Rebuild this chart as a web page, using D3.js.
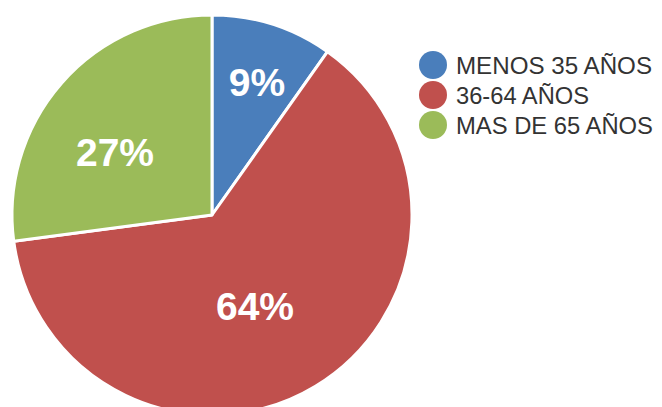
<!DOCTYPE html>
<html>
<head>
<meta charset="utf-8">
<script src="https://cdn.jsdelivr.net/npm/d3@7"></script>
<style>
  html, body { margin: 0; padding: 0; background: #ffffff; }
  svg { display: block; }
</style>
</head>
<body>
<svg id="chart" width="662" height="407"></svg>
<script>
const categories = ["MENOS 35 AÑOS", "36-64 AÑOS", "MAS DE 65 AÑOS"];
const values = [9.8, 63.1, 27.1];
const labels = ["9%", "64%", "27%"];
const colors = ["#4A7EBB", "#C0504D", "#9BBB59"];

const svg = d3.select("#chart");
const cx = 212, cy = 215, r = 200;

const pie = d3.pie().sort(null).value(d => d)(values);
const arc = d3.arc().innerRadius(0).outerRadius(r);

const g = svg.append("g").attr("transform", `translate(${cx},${cy})`);
g.selectAll("path").data(pie).join("path")
  .attr("d", arc)
  .attr("fill", (d, i) => colors[i])
  .attr("stroke", "#ffffff")
  .attr("stroke-width", 3)
  .attr("stroke-linejoin", "round");

const labelPos = [[45, -119], [43, 105], [-97, -49]];
g.selectAll("text.lbl").data(pie).join("text")
  .attr("class", "lbl")
  .attr("x", (d, i) => labelPos[i][0])
  .attr("y", (d, i) => labelPos[i][1])
  .attr("text-anchor", "middle")
  .attr("font-family", "Liberation Sans, Arial, sans-serif")
  .attr("font-weight", "bold")
  .attr("font-size", 39)
  .attr("fill", "#ffffff")
  .text((d, i) => labels[i]);

const y = d3.scaleBand().domain(categories).range([50, 140]);
const leg = svg.append("g");
const items = leg.selectAll("g").data(categories).join("g")
  .attr("transform", d => `translate(0,${y(d) + y.bandwidth() / 2})`);
items.append("circle")
  .attr("cx", 433).attr("cy", 0).attr("r", 14)
  .attr("fill", (d, i) => colors[i]);
items.append("text")
  .attr("x", 456).attr("y", 8.5)
  .attr("font-family", "Liberation Sans, Arial, sans-serif")
  .attr("font-size", 24)
  .attr("fill", "#333333")
  .attr("textLength", (d, i) => [196, 133, 197][i])
  .attr("lengthAdjust", "spacingAndGlyphs")
  .text(d => d);
</script>
</body>
</html>
